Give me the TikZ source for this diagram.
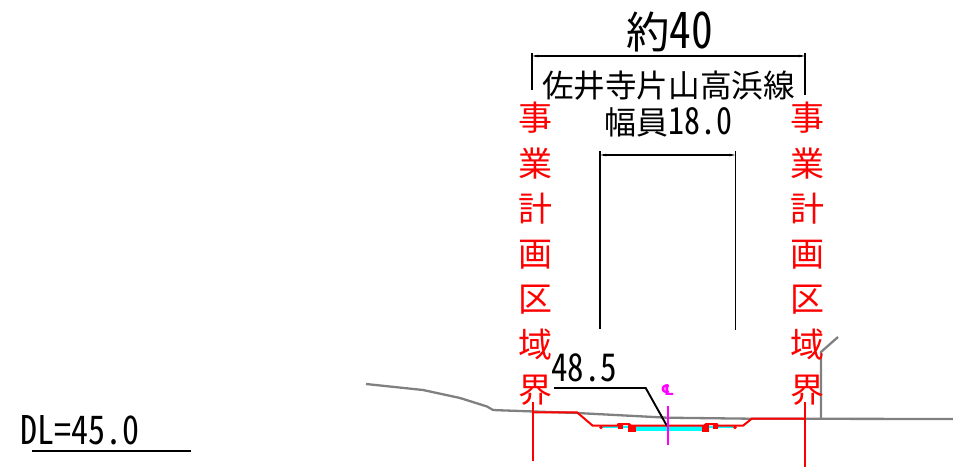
\documentclass[tikz,border=0pt]{standalone}
\usepackage{fontspec}
\usetikzlibrary{arrows.meta}
\setmainfont{Noto Sans CJK JP}[RawFeature=+hwid]
\newfontfamily\clfont{DejaVu Sans Bold}
\definecolor{cadmag}{RGB}{255,0,255}
\definecolor{cadcyan}{RGB}{0,255,255}
\definecolor{cadred}{RGB}{255,0,0}
\definecolor{cadgrey}{RGB}{128,128,128}
\newcommand{\tallhw}[1]{\scalebox{1}[1.16]{#1}}
\tikzset{
  x=1pt,y=-1pt,
  blk/.style={draw=black,line width=1.9pt},
  dimline/.style={draw=black,line width=1.9pt,{Stealth[length=6pt,width=2.4pt]}-{Stealth[length=6pt,width=2.4pt]}},
  redl/.style={draw=cadred,line width=2pt,line join=round},
  greyl/.style={draw=cadgrey,line width=2.3pt,line join=round},
  lab/.style={inner sep=0pt,text=black,anchor=center},
  redtxt/.style={inner sep=0pt,text=cadred,align=center,anchor=north,font=\fontsize{34}{45.3}\selectfont},
}
\begin{document}
\begin{tikzpicture}
\useasboundingbox (0,0) rectangle (953,473);
% coordinates
\coordinate (g1) at (366,384);
\coordinate (g2) at (953,419);
\coordinate (post0) at (821,418);
\coordinate (post1) at (821,352);
\coordinate (post2) at (838,337);
\coordinate (dimLa) at (532,53);
\coordinate (dimLb) at (532,90);
\coordinate (dimRa) at (805,53);
\coordinate (dimRb) at (805,95);
\coordinate (dimA) at (532,56);
\coordinate (dimB) at (805,56);
\coordinate (wA) at (600,155);
\coordinate (wB) at (735.5,155);
\coordinate (wLa) at (600,151);
\coordinate (wLb) at (600,329);
\coordinate (wRa) at (735.5,151);
\coordinate (wRb) at (735.5,330);
\coordinate (redLa) at (533,402);
\coordinate (redLb) at (533,461);
\coordinate (redRa) at (805,402);
\coordinate (redRb) at (805,467);
\coordinate (lead1) at (554,388);
\coordinate (lead2) at (645.7,388);
\coordinate (lead3) at (667,426);
\coordinate (clA) at (667.7,406);
\coordinate (clB) at (667.7,445);
\coordinate (dl1) at (32,451);
\coordinate (dl2) at (191,451);
% ground
\draw[greyl] (g1) -- (423,390) -- (460,398) -- (487,406.5) -- (493,410) -- (500,410.3) -- (577,413) -- (667,417.7) -- (750,418.7) -- (g2);
\draw[greyl] (post0) -- (post1) -- (post2);
% pavement
\fill[cadcyan] (635,426) rectangle (702,431);
\fill[cadcyan] (601,426) rectangle (635,428);
\fill[cadcyan] (702,426) rectangle (735,428);
% road
\draw[redl] (533,412.3) -- (577,412.3) -- (592.7,425.7) -- (618,425.7) -- (618,424) -- (629,424) -- (631,425.7) -- (704,425.7) -- (706,424) -- (717,424) -- (717,425.7) -- (743,425.7) -- (751.7,418.7) -- (805,418.7);
\fill[cadred] (617.5,423.5) rectangle (622.5,428.5);
\fill[cadred] (628,424.5) rectangle (635.5,431.5);
\fill[cadred] (701.5,424.5) rectangle (708.5,431.5);
\fill[cadred] (713,423.5) rectangle (718,428.5);
\fill[cadred] (601,427.5) circle (1.8);
\fill[cadred] (735,427.5) circle (1.8);
\draw[redl] (redLa) -- (redLb);
\draw[redl] (redRa) -- (redRb);
% dimensions
\draw[blk] (dimLa) -- (dimLb);
\draw[blk] (dimRa) -- (dimRb);
\draw[dimline] (dimA) -- (dimB);
\draw[blk] (wLa) -- (wLb);
\draw[blk] (wRa) -- (wRb);
\draw[dimline] (wA) -- (wB);
\draw[blk,line join=miter] (lead1) -- (lead2) -- (lead3);
\draw[draw=cadmag,line width=2pt] (clA) -- (clB);
\draw[blk] (dl1) -- (dl2);
% texts
\node[lab,font=\fontsize{43.5}{42}\selectfont] (t40) at (669.5,32) {約\tallhw{40}};
\node[lab,font=\fontsize{31.6}{32}\selectfont] (troad) at (668.5,86) {佐井寺片山高浜線};
\node[lab,font=\fontsize{32}{32}\selectfont] (twidth) at (668.5,122) {幅員\tallhw{18.0}};
\node[lab,font=\fontsize{33}{33}\selectfont] (telev) at (584,368) {\tallhw{48.5}};
\node[lab,font=\fontsize{34}{34}\selectfont] (tdl) at (80,430) {\tallhw{DL=45.0}};
\node[inner sep=0pt,text=cadmag,font=\clfont\fontsize{15}{15}\selectfont] (tcl) at (667.5,390.5) {℄};
\node[redtxt] (rl) at (535,102) {事\\業\\計\\画\\区\\域\\界};
\node[redtxt] (rr) at (807,102) {事\\業\\計\\画\\区\\域\\界};
\end{tikzpicture}
\end{document}
